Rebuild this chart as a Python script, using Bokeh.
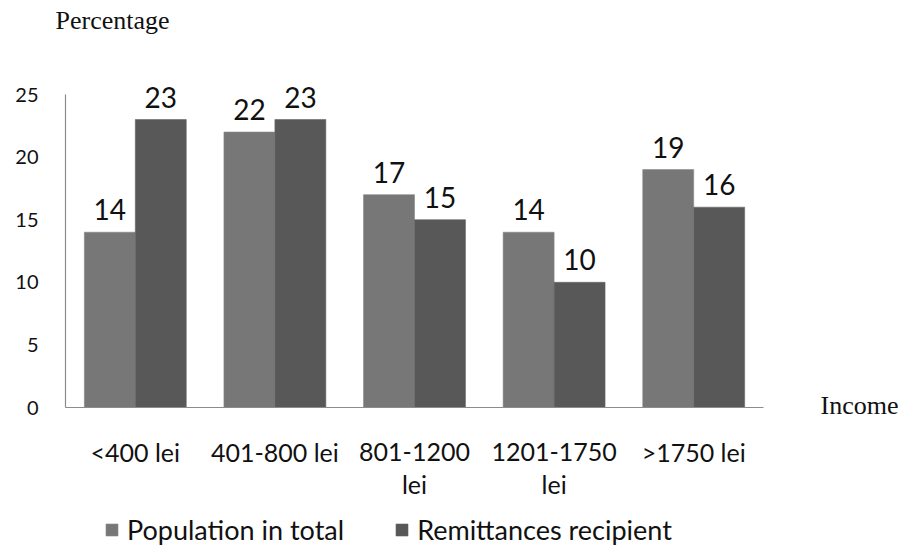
import numpy as np
from bokeh.plotting import figure
from bokeh.models import ColumnDataSource, Range1d, Legend, LegendItem
from bokeh.core.properties import value
from bokeh.embed import file_html
from bokeh.resources import INLINE

# Income brackets and the share of each group falling into them (%)
categories = ["<400 lei", "401-800 lei", "801-1200 lei", "1201-1750 lei", ">1750 lei"]
label_line1 = ["<400 lei", "401-800 lei", "801-1200", "1201-1750", ">1750 lei"]
label_line2 = ["", "", "lei", "lei", ""]
population_total = [14, 22, 17, 14, 19]
remittance_recipients = [23, 23, 15, 10, 16]
y_ticks = [0, 5, 10, 15, 20, 25]

SANS = value("Lato")
SERIF = value("Liberation Serif")
LIGHT = "#777777"
DARK = "#585858"
AXIS = "#8c8c8c"
INK = "#111111"

W, H = 907, 546
# plotting area in pixels: left, right, top, bottom edges
PL, PR, PT, PB = 65, 763, 94, 407
n = len(categories)
ymax = y_ticks[-1]
xs = (PR - PL) / n            # px per category
ys = (PB - PT) / ymax         # px per percentage point

centers = np.arange(n) + 0.5
bw = 0.365

source = ColumnDataSource(dict(
    xc=centers,
    xp=centers - bw / 2,
    xr=centers + bw / 2,
    pop=population_total,
    rem=remittance_recipients,
    pop_txt=[str(v) for v in population_total],
    rem_txt=[str(v) for v in remittance_recipients],
    l1=label_line1,
    l2=label_line2,
    base=[0] * n,
))

p = figure(width=W, height=H,
           x_range=Range1d(-PL / xs, (W - PL) / xs),
           y_range=Range1d(-(H - PB) / ys, ymax + PT / ys),
           x_axis_type=None, y_axis_type=None,
           output_backend="svg", toolbar_location=None,
           min_border=0)
p.outline_line_color = None
p.grid.visible = False
p.background_fill_color = "white"

r_pop = p.vbar(x="xp", top="pop", width=bw, source=source,
               fill_color=LIGHT, line_color="#868686", line_width=0.6)
r_rem = p.vbar(x="xr", top="rem", width=bw, source=source,
               fill_color=DARK, line_color="#666666", line_width=0.6)

# axis lines
p.segment(x0=[0], y0=[0], x1=[0], y1=[ymax], line_color=AXIS, line_width=1.2)
p.segment(x0=[0], y0=[0], x1=[n], y1=[0], line_color=AXIS, line_width=1.2)

# y tick labels
p.text(x=[0] * len(y_ticks), y=y_ticks, text=[str(t) for t in y_ticks],
       x_offset=-27, text_align="right", text_baseline="middle",
       text_font=SANS, text_font_size="20px", text_color=INK)

# value labels on top of the bars
txt_kw = dict(source=source, text_align="center", text_baseline="bottom", y_offset=-12,
              text_font=SANS, text_font_size="28px", text_color=INK)
p.text(x="xp", y="pop", text="pop_txt", **txt_kw)
p.text(x="xr", y="rem", text="rem_txt", **txt_kw)

# category labels under the axis (two lines where wrapped)
cat_kw = dict(x="xc", y="base", source=source, text_align="center",
              text_baseline="middle", text_font=SANS, text_font_size="25px",
              text_color=INK)
p.text(text="l1", y_offset=44, **cat_kw)
p.text(text="l2", y_offset=76, **cat_kw)

# axis titles
p.text(x=[0], y=[ymax], text=["Percentage"], x_offset=-10, y_offset=-74,
       text_align="left", text_baseline="middle", text_font=SERIF,
       text_font_size="26px", text_color=INK)
p.text(x=[n], y=[0], text=["Income"], x_offset=57, y_offset=-2,
       text_align="left", text_baseline="middle", text_font=SERIF,
       text_font_size="26px", text_color=INK)

legend = Legend(items=[LegendItem(label="Population in total", renderers=[r_pop]),
                       LegendItem(label="Remittances recipient", renderers=[r_rem])],
                orientation="horizontal", location=(104, 0),
                label_text_font="Lato", label_text_font_size="27px",
                label_text_color=INK, glyph_width=15, glyph_height=15,
                spacing=50, label_standoff=8, border_line_color=None,
                background_fill_alpha=0, padding=0, margin=0)
p.add_layout(legend, "center")

open("out.html", "w").write(file_html(p, INLINE))
